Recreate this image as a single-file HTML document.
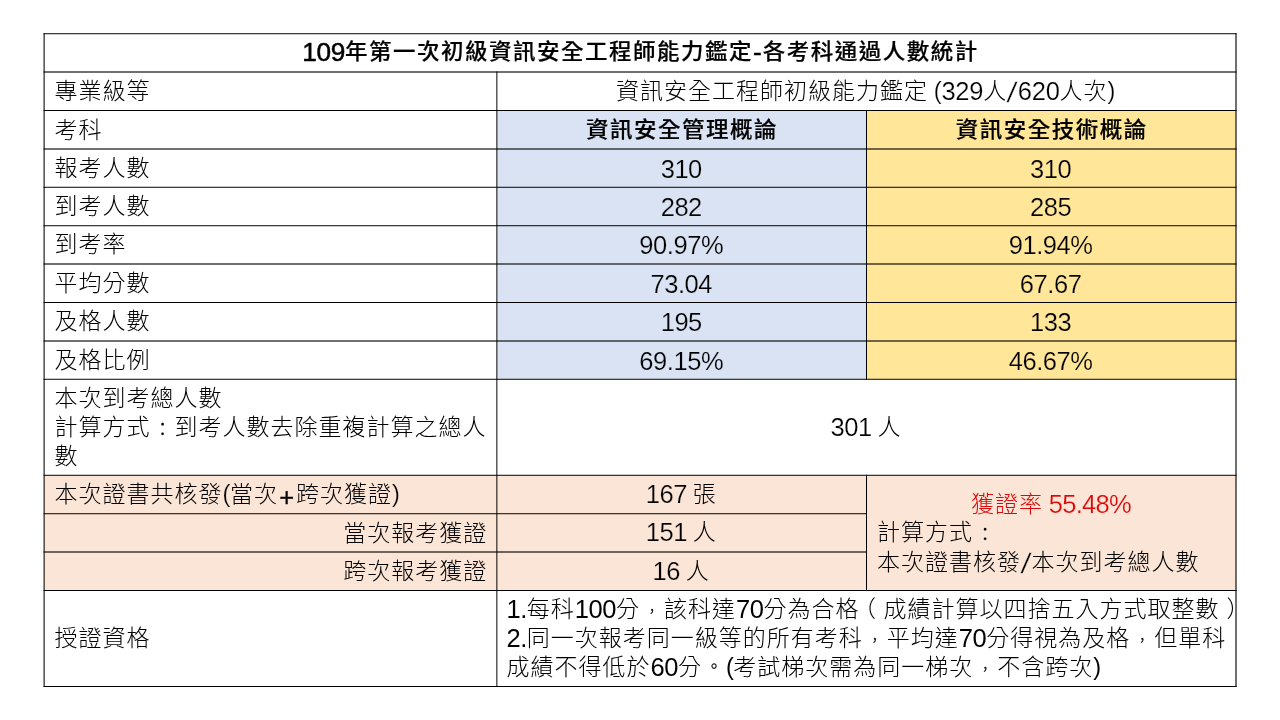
<!DOCTYPE html>
<html lang="zh-Hant">
<head>
<meta charset="utf-8">
<title>109年第一次初級資訊安全工程師能力鑑定-各考科通過人數統計</title>
<style>
html,body{margin:0;padding:0;background:#fff;}
body{width:1280px;height:720px;position:relative;overflow:hidden;
  font-family:"Liberation Sans","Noto Sans CJK TC",sans-serif;
  font-size:23px;line-height:29px;letter-spacing:1px;word-spacing:-1.6px;color:#000;font-weight:300;}
.bg{position:absolute;}
.t{position:absolute;white-space:nowrap;margin:0;padding:0;height:29px;}
.c{text-align:center;}
.r{text-align:right;}
.b{font-weight:500;font-size:22.5px;letter-spacing:1.5px;-webkit-text-stroke:0.2px #000;transform:scaleY(0.95);transform-origin:0 22px;}
.red{color:#dc0808;}
.n{font-size:25.5px;letter-spacing:-0.45px;line-height:0;position:relative;top:1px;font-weight:400;}
.b .n{font-size:26.2px;letter-spacing:-0.3px;-webkit-text-stroke:0.5px #000;}
.kw .n{-webkit-text-stroke:0.2px #fff;}
.kb .n{-webkit-text-stroke:0.2px #dae3f3;}
.ky .n{-webkit-text-stroke:0.2px #ffe699;}
.ko .n{-webkit-text-stroke:0.2px #fbe5d6;}
.sl{display:inline-block;font-size:28px;transform:skewX(-9deg);margin:0 1.6px 0 1.2px;position:relative;top:1.5px;letter-spacing:0;}
.pl{margin:0 2.3px 0 1.2px;position:relative;top:2.5px;-webkit-text-stroke:0.3px #000;}
.pa{font-size:23.5px;position:relative;top:-1.5px;}
.q{display:inline-block;width:24px;font-size:16px;text-align:center;letter-spacing:0;position:relative;line-height:0;-webkit-text-stroke:0.3px #000;}
.p{position:relative;}
svg{position:absolute;left:0;top:0;}
</style>
</head>
<body>
<div class="bg" style="left:496.86px;top:110.5px;width:369.64px;height:268.77px;background:#dae3f3"></div>
<div class="bg" style="left:866.5px;top:110.5px;width:369.5px;height:268.77px;background:#ffe699"></div>
<div class="bg" style="left:44.11px;top:475.27px;width:1191.89px;height:115.23px;background:#fbe5d6"></div>
<div class="t c b" style="left:54.16px;top:37px;width:1172.69px;"><span class="n" style="top:2px;">109</span>年第一次初級資訊安全工程師能力鑑定<span class="n" style="top:2.3px;letter-spacing:1.1px;">-</span>各考科通過人數統計</div>
<div class="t kw" style="left:54.61px;top:77px;width:433.55px;">專業級等</div>
<div class="t c kw" style="left:505.66px;top:77px;width:719.94px;">資訊安全工程師初級能力鑑定 <span class="n" style="letter-spacing:-0.25px;"><span class="pa">(</span>329</span>人<span class="n" style="letter-spacing:-0.25px;"><span class="sl">/</span>620</span>人次<span class="n" style="letter-spacing:-0.25px;"><span class="pa">)</span></span></div>
<div class="t kw" style="left:54.61px;top:116px;width:433.55px;">考科</div>
<div class="t c b" style="left:506.91px;top:115px;width:350.44px;">資訊安全管理概論</div>
<div class="t c b" style="left:876.55px;top:115px;width:350.3px;">資訊安全技術概論</div>
<div class="t kw" style="left:54.61px;top:154px;width:433.55px;">報考人數</div>
<div class="t c kb" style="left:506.06px;top:155px;width:350.44px;"><span class="n">310</span></div>
<div class="t c ky" style="left:875.5px;top:155px;width:350.3px;"><span class="n">310</span></div>
<div class="t kw" style="left:54.61px;top:192px;width:433.55px;">到考人數</div>
<div class="t c kb" style="left:506.06px;top:193px;width:350.44px;"><span class="n">282</span></div>
<div class="t c ky" style="left:875.5px;top:193px;width:350.3px;"><span class="n">285</span></div>
<div class="t kw" style="left:54.61px;top:230px;width:433.55px;">到考率</div>
<div class="t c kb" style="left:506.06px;top:231px;width:350.44px;"><span class="n">90.97%</span></div>
<div class="t c ky" style="left:875.5px;top:231px;width:350.3px;"><span class="n">91.94%</span></div>
<div class="t kw" style="left:54.61px;top:269px;width:433.55px;">平均分數</div>
<div class="t c kb" style="left:506.06px;top:270px;width:350.44px;"><span class="n">73.04</span></div>
<div class="t c ky" style="left:875.5px;top:270px;width:350.3px;"><span class="n">67.67</span></div>
<div class="t kw" style="left:54.61px;top:307px;width:433.55px;">及格人數</div>
<div class="t c kb" style="left:506.06px;top:308px;width:350.44px;"><span class="n">195</span></div>
<div class="t c ky" style="left:875.5px;top:308px;width:350.3px;"><span class="n">133</span></div>
<div class="t kw" style="left:54.61px;top:346px;width:433.55px;">及格比例</div>
<div class="t c kb" style="left:506.06px;top:347px;width:350.44px;"><span class="n">69.15%</span></div>
<div class="t c ky" style="left:875.5px;top:347px;width:350.3px;"><span class="n">46.67%</span></div>
<div class="t kw" style="left:54.61px;top:384px;width:433.55px;">本次到考總人數</div>
<div class="t kw" style="left:54.61px;top:413px;width:433.55px;">計算方式<span class="q" style="font-size:18.7px;top:1.4px">：</span>到考人數去除重複計算之總人</div>
<div class="t kw" style="left:54.61px;top:442px;width:433.55px;">數</div>
<div class="t c kw" style="left:505.96px;top:413px;width:719.94px;"><span class="n">301</span> 人</div>
<div class="t ko" style="left:54.61px;top:480px;width:433.55px;">本次證書共核發<span class="n"><span class="pa">(</span></span>當次<span class="n"><span class="pl">+</span></span>跨次獲證<span class="n"><span class="pa">)</span></span></div>
<div class="t r ko" style="left:53.81px;top:519px;width:433.55px;">當次報考獲證</div>
<div class="t r ko" style="left:53.81px;top:557px;width:433.55px;">跨次報考獲證</div>
<div class="t c ko" style="left:505.96px;top:480px;width:350.44px;"><span class="n">167</span> 張</div>
<div class="t c ko" style="left:505.96px;top:518px;width:350.44px;"><span class="n">151</span> 人</div>
<div class="t c ko" style="left:505.96px;top:557px;width:350.44px;"><span class="n">16</span> 人</div>
<div class="t c ko red" style="left:875.8px;top:490px;width:350.3px;">獲證率 <span class="n" style="letter-spacing:-0.75px;">55.48%</span></div>
<div class="t ko" style="left:877px;top:518px;width:350.3px;">計算方式<span class="q" style="font-size:18.7px;top:1.4px">：</span></div>
<div class="t ko" style="left:877px;top:548px;width:350.3px;">本次證書核發<span class="n"><span class="sl">/</span></span>本次到考總人數</div>
<div class="t kw" style="left:54.61px;top:624px;width:433.55px;">授證資格</div>
<div class="t" style="left:506.46px;top:595px;width:719.94px;"><span class="n">1.</span>每科<span class="n">100</span>分<span class="q" style="font-size:14px;top:-0.6px">，</span>該科達<span class="n">70</span>分為合格<span class="p" style="left:-6.5px">（</span>成績計算以四捨五入方式取整數<span class="p" style="left:7px">）</span></div>
<div class="t" style="left:506.46px;top:624px;width:719.94px;"><span class="n">2.</span>同一次報考同一級等的所有考科<span class="q" style="font-size:14px;top:-0.6px">，</span>平均達<span class="n">70</span>分得視為及格<span class="q" style="font-size:14px;top:-0.6px">，</span>但單科</div>
<div class="t" style="left:506.46px;top:653px;width:719.94px;">成績不得低於<span class="n">60</span>分<span class="q" style="top:-2.6px">。</span><span class="n"><span class="pa">(</span></span>考試梯次需為同一梯次<span class="q" style="font-size:14px;top:-0.6px">，</span>不含跨次<span class="n"><span class="pa">)</span></span></div>
<svg width="1280" height="720" viewBox="0 0 1280 720">
<g fill="#000">
<rect x="43.59" y="33.24" width="1192.97" height="0.98"/>
<rect x="43.59" y="71.44" width="1192.97" height="1.12"/>
<rect x="43.59" y="110" width="1192.97" height="1"/>
<rect x="43.59" y="148.44" width="1192.97" height="1.12"/>
<rect x="43.59" y="186.78" width="1192.97" height="0.98"/>
<rect x="43.59" y="225.24" width="1192.97" height="0.98"/>
<rect x="43.59" y="263.44" width="1192.97" height="1.12"/>
<rect x="43.59" y="302" width="1192.97" height="1"/>
<rect x="43.59" y="340.44" width="1192.97" height="1.12"/>
<rect x="43.59" y="378.78" width="1192.97" height="0.98"/>
<rect x="43.59" y="474.78" width="1192.97" height="0.98"/>
<rect x="43.59" y="513.24" width="823.41" height="0.98"/>
<rect x="43.59" y="551.44" width="823.41" height="1.12"/>
<rect x="43.59" y="590" width="1192.97" height="1"/>
<rect x="43.59" y="686" width="1192.97" height="1"/>
<rect x="43.59" y="33.24" width="1.04" height="653.76"/>
<rect x="1235.44" y="33.24" width="1.12" height="653.76"/>
<rect x="496.37" y="71.44" width="0.98" height="615.56"/>
<rect x="866" y="110" width="1" height="269.76"/>
<rect x="866" y="474.78" width="1" height="116.22"/>
</g></svg>
</body>
</html>
